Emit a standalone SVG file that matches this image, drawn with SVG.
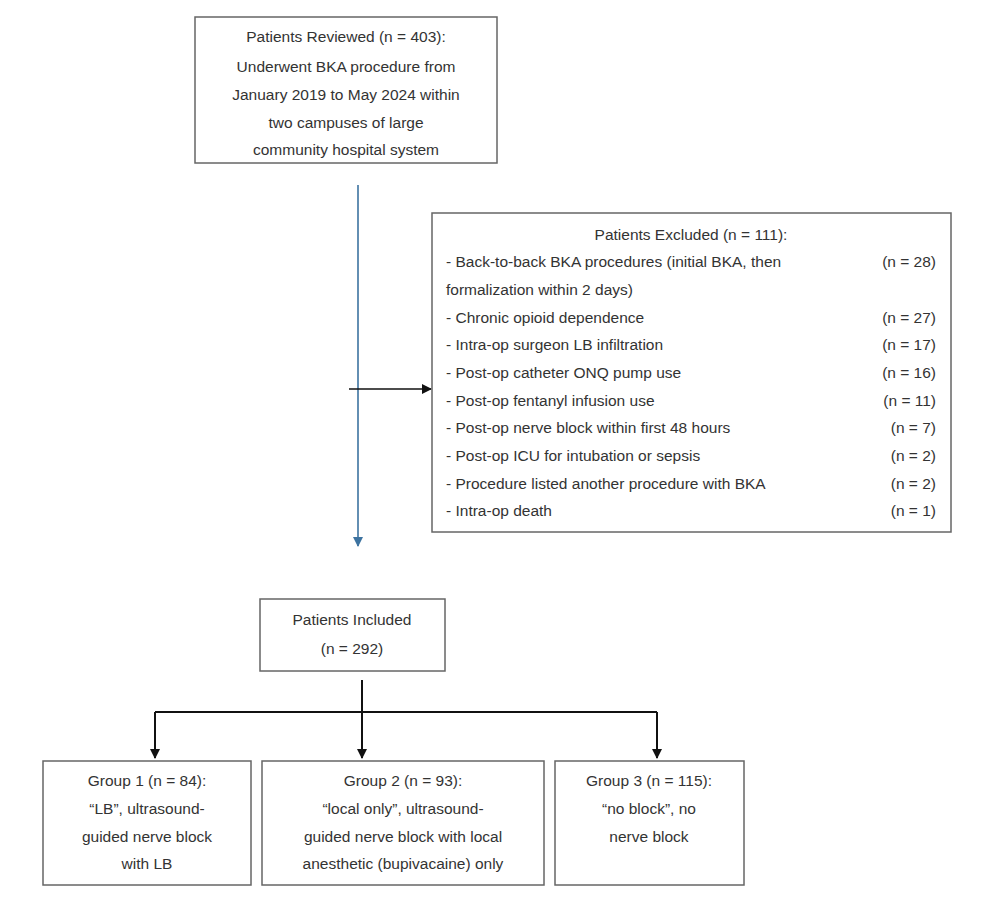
<svg xmlns="http://www.w3.org/2000/svg" width="986" height="909" viewBox="0 0 986 909">
<style>
.b{fill:#fff;stroke:#666;stroke-width:1.5}
text{font-family:"Liberation Sans",Arial,sans-serif;font-size:15.5px;fill:#333}
.c{text-anchor:middle}
.r{text-anchor:end}
</style>
<defs>
<marker id="ab" markerWidth="10" markerHeight="10" refX="9" refY="5" orient="auto" markerUnits="userSpaceOnUse"><path d="M0,0 L10,5 L0,10 z" fill="#111"/></marker>
<marker id="au" markerWidth="10" markerHeight="10" refX="9" refY="5" orient="auto" markerUnits="userSpaceOnUse"><path d="M0,0 L10,5 L0,10 z" fill="#3d73a0"/></marker>
</defs>
<rect width="986" height="909" fill="#fff"/>
<g id="connectors" fill="none">
<line x1="358" y1="185" x2="358" y2="546" stroke="#3d73a0" stroke-width="1.6" marker-end="url(#au)"/>
<line x1="349" y1="389" x2="431" y2="389" stroke="#111" stroke-width="1.6" marker-end="url(#ab)"/>
<polyline points="362,680 362,712" stroke="#111" stroke-width="2"/>
<line x1="155" y1="712" x2="657" y2="712" stroke="#111" stroke-width="2"/>
<line x1="155" y1="712" x2="155" y2="758" stroke="#111" stroke-width="2" marker-end="url(#ab)"/>
<line x1="362" y1="712" x2="362" y2="758" stroke="#111" stroke-width="2" marker-end="url(#ab)"/>
<line x1="657" y1="712" x2="657" y2="758" stroke="#111" stroke-width="2" marker-end="url(#ab)"/>
</g>
<g id="reviewed">
<rect class="b" x="195" y="17" width="302" height="146"/>
<text class="c" x="346" y="42">Patients Reviewed (n = 403):</text>
<text class="c" x="346" y="72">Underwent BKA procedure from</text>
<text class="c" x="346" y="100">January 2019 to May 2024 within</text>
<text class="c" x="346" y="128">two campuses of large</text>
<text class="c" x="346" y="155">community hospital system</text>
</g>
<g id="excluded">
<rect class="b" x="432" y="213" width="519" height="319"/>
<text class="c" x="691" y="240">Patients Excluded (n = 111):</text>
<text x="446" y="267">- Back-to-back BKA procedures (initial BKA, then</text>
<text x="446" y="295">formalization within 2 days)</text>
<text x="446" y="323">- Chronic opioid dependence</text>
<text x="446" y="350">- Intra-op surgeon LB infiltration</text>
<text x="446" y="378">- Post-op catheter ONQ pump use</text>
<text x="446" y="406">- Post-op fentanyl infusion use</text>
<text x="446" y="433">- Post-op nerve block within first 48 hours</text>
<text x="446" y="461">- Post-op ICU for intubation or sepsis</text>
<text x="446" y="489">- Procedure listed another procedure with BKA</text>
<text x="446" y="516">- Intra-op death</text>
<text class="r" x="936" y="267">(n = 28)</text>
<text class="r" x="936" y="323">(n = 27)</text>
<text class="r" x="936" y="350">(n = 17)</text>
<text class="r" x="936" y="378">(n = 16)</text>
<text class="r" x="936" y="406">(n = 11)</text>
<text class="r" x="936" y="433">(n = 7)</text>
<text class="r" x="936" y="461">(n = 2)</text>
<text class="r" x="936" y="489">(n = 2)</text>
<text class="r" x="936" y="516">(n = 1)</text>
</g>
<g id="included">
<rect class="b" x="260" y="599" width="185" height="72"/>
<text class="c" x="352" y="625">Patients Included</text>
<text class="c" x="352" y="654">(n = 292)</text>
</g>
<g id="group1">
<rect class="b" x="43" y="761" width="208" height="124"/>
<text class="c" x="147" y="786">Group 1 (n = 84):</text>
<text class="c" x="147" y="814">“LB”, ultrasound-</text>
<text class="c" x="147" y="842">guided nerve block</text>
<text class="c" x="147" y="869">with LB</text>
</g>
<g id="group2">
<rect class="b" x="262" y="761" width="282" height="124"/>
<text class="c" x="403" y="786">Group 2 (n = 93):</text>
<text class="c" x="403" y="814">“local only”, ultrasound-</text>
<text class="c" x="403" y="842">guided nerve block with local</text>
<text class="c" x="403" y="869">anesthetic (bupivacaine) only</text>
</g>
<g id="group3">
<rect class="b" x="555" y="761" width="189" height="124"/>
<text class="c" x="649" y="786">Group 3 (n = 115):</text>
<text class="c" x="649" y="814">“no block”, no</text>
<text class="c" x="649" y="842">nerve block</text>
</g>
</svg>
